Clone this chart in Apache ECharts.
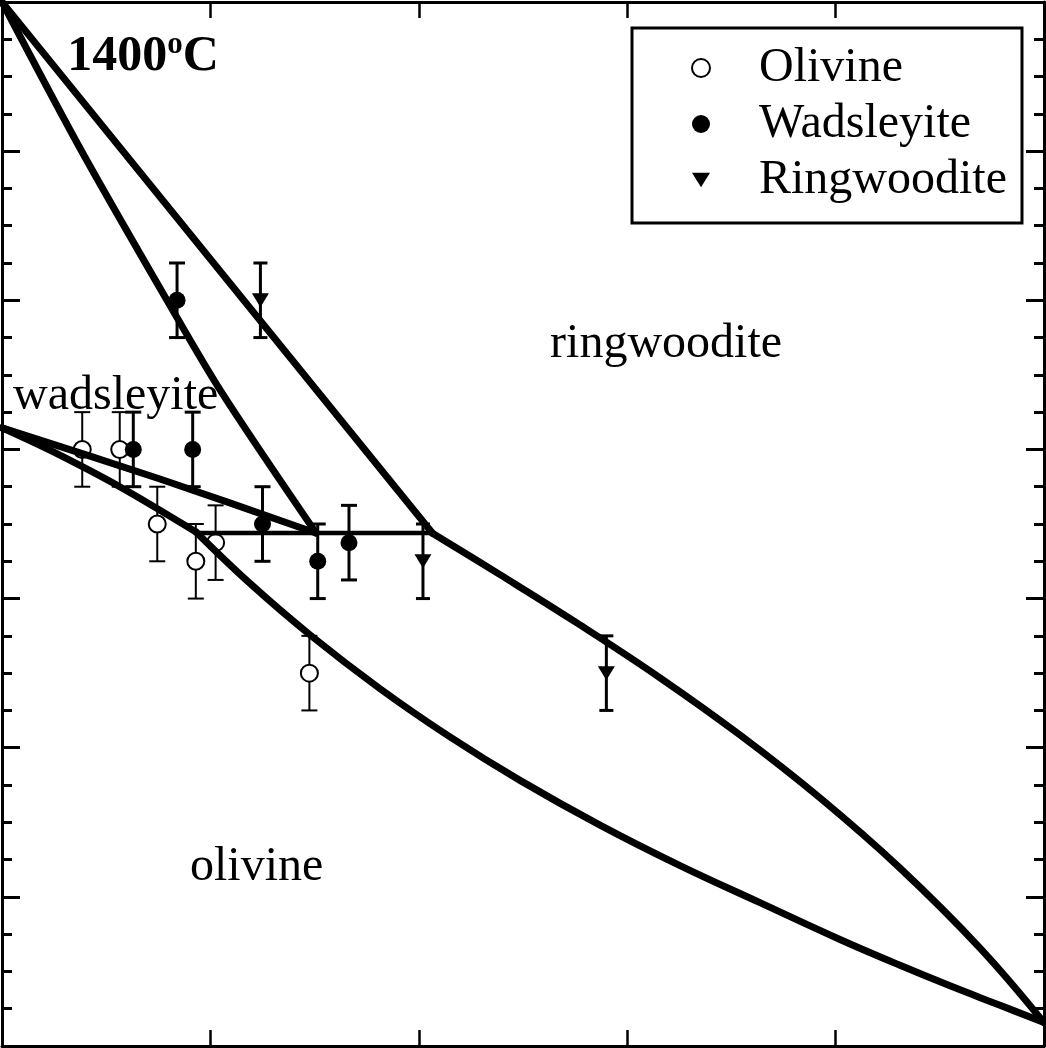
<!DOCTYPE html>
<html><head><meta charset="utf-8">
<script src="https://cdn.jsdelivr.net/npm/echarts@6/dist/echarts.min.js"></script>
<style>html,body{margin:0;padding:0;background:#fff}#c{width:1046px;height:1048px}</style>
</head><body><div id="c"></div>
<script>
// ---- data (x: composition fraction, y: pressure-like scale) ----
const olivineX = [0.077, 0.113, 0.149, 0.186, 0.205, 0.295];
const olivineY = [14.0, 14.0, 13.0, 12.5, 12.75, 11.0];
const olivineErr = [0.5, 0.5, 0.5, 0.5, 0.5, 0.5];

const wadsleyiteX = [0.168, 0.126, 0.183, 0.250, 0.303, 0.333];
const wadsleyiteY = [16.0, 14.0, 14.0, 13.0, 12.5, 12.75];
const wadsleyiteErr = [0.5, 0.5, 0.5, 0.5, 0.5, 0.5];

const ringwooditeX = [0.248, 0.404, 0.580];
const ringwooditeY = [16.0, 12.5, 11.0];
const ringwooditeErr = [0.5, 0.5, 0.5];

// phase boundaries
const ringInHigh = [[0, 20], [0.413, 12.88]];
const wadOutHigh = [[0, 20], [0.0758, 18.015], [0.1593, 15.977], [0.2111, 14.757], [0.3013, 12.88]];
const olWadUpper = [[0, 14.29], [0.1516, 13.603], [0.3013, 12.88]];
const olWadLower = [[0, 14.29], [0.046, 13.99], [0.113, 13.50], [0.1862, 12.893]];
const olRingLower = [[0.1862, 12.893], [0.238, 12.203], [0.2956, 11.513], [0.3628, 10.791], [0.4299, 10.145],
  [0.4971, 9.562], [0.5739, 8.962], [0.6507, 8.419], [0.7274, 7.922], [0.8042, 7.428], [0.8618, 7.082],
  [0.9098, 6.807], [0.9578, 6.546], [1.0, 6.315]];
const olRingUpper = [[0.4127, 12.879], [0.4779, 12.321], [0.5547, 11.647], [0.6315, 10.938], [0.7083, 10.17],
  [0.785, 9.327], [0.8618, 8.386], [0.9386, 7.314], [1.0, 6.315]];
const tripleLine = [[0.1862, 12.88], [0.4127, 12.88]];

// annotations
const annoNames = ['wadsleyite', 'ringwoodite', 'olivine'];
const annoX = [0.0106, 0.526, 0.1804];
const annoY = [14.71, 15.41, 8.40];
const titleText = '1400';
const titlePos = [0.0625, 19.28];

const xMin = 0, xMax = 1, xStep = 0.2;
const yMin = 6, yMax = 20, yStep = 2;

// ---- chart ----
const FONT = 'Liberation Serif';
const chart = echarts.init(document.getElementById('c'), null, {renderer: 'canvas'});

function errSeries(name, xs, ys, es, width, cap) {
  return {
    type: 'custom', name: name, silent: true, z: 1,
    data: xs.map((x, i) => [x, ys[i] - es[i], ys[i] + es[i]]),
    encode: {x: 0, y: [1, 2]},
    renderItem: function (params, api) {
      const lo = api.coord([api.value(0), api.value(1)]);
      const hi = api.coord([api.value(0), api.value(2)]);
      const st = {stroke: '#000', lineWidth: width, fill: null};
      return {type: 'group', children: [
        {type: 'line', shape: {x1: lo[0], y1: lo[1], x2: hi[0], y2: hi[1]}, style: st},
        {type: 'line', shape: {x1: lo[0] - cap, y1: lo[1], x2: lo[0] + cap, y2: lo[1]}, style: st},
        {type: 'line', shape: {x1: hi[0] - cap, y1: hi[1], x2: hi[0] + cap, y2: hi[1]}, style: st}
      ]};
    }
  };
}
function lineSeries(name, data, width, smooth) {
  return {type: 'line', name: name, data: data, symbol: 'none', smooth: smooth, z: 3, silent: true,
    lineStyle: {color: '#000', width: width, join: 'round', cap: 'round'}};
}
const zip = (xs, ys) => xs.map((x, i) => [x, ys[i]]);

const axisCommon = {
  axisLine: {show: true, onZero: false, lineStyle: {color: '#000', width: 3}},
  axisLabel: {show: false}, splitLine: {show: false}
};
const txt = {color: '#000', fontFamily: FONT, textBorderWidth: 0, textBorderColor: 'transparent',
  textShadowBlur: 0, opacity: 1};

const option = {
  animation: false,
  backgroundColor: '#fff',
  grid: {left: 2, right: 2, top: 2, bottom: 2},
  xAxis: [
    Object.assign({type: 'value', position: 'bottom', min: xMin, max: xMax, interval: xStep,
      axisTick: {show: true, inside: true, length: 16, lineStyle: {color: '#000', width: 2.5}}}, axisCommon),
    Object.assign({type: 'value', position: 'top', min: xMin, max: xMax, interval: xStep,
      axisTick: {show: true, inside: true, length: 16, lineStyle: {color: '#000', width: 2.5}}}, axisCommon)
  ],
  yAxis: [
    Object.assign({type: 'value', position: 'left', min: yMin, max: yMax, interval: yStep,
      axisTick: {show: true, inside: true, length: 18, lineStyle: {color: '#000', width: 3}},
      minorTick: {show: true, splitNumber: 4, length: 10, lineStyle: {color: '#000', width: 3}}}, axisCommon),
    Object.assign({type: 'value', position: 'right', min: yMin, max: yMax, interval: yStep,
      axisTick: {show: true, inside: true, length: 18, lineStyle: {color: '#000', width: 3}},
      minorTick: {show: true, splitNumber: 4, length: 10, lineStyle: {color: '#000', width: 3}}}, axisCommon)
  ],
  legend: {
    orient: 'vertical', left: 632, top: 28,
    data: ['Olivine', 'Wadsleyite', 'Ringwoodite'],
    selectedMode: false,
    itemWidth: 18, itemHeight: 18, itemGap: 8,
    padding: [16, 15, 19, 59],
    borderColor: '#000', borderWidth: 3,
    textStyle: Object.assign({fontSize: 48, lineHeight: 48, padding: [0, 0, 0, 44]}, txt)
  },
  series: [
    errSeries('olErr', olivineX, olivineY, olivineErr, 2, 8),
    errSeries('wdErr', wadsleyiteX, wadsleyiteY, wadsleyiteErr, 3, 8),
    errSeries('rwErr', ringwooditeX, ringwooditeY, ringwooditeErr, 3, 7),
    {type: 'scatter', name: 'Olivine', data: zip(olivineX, olivineY), symbol: 'circle', symbolSize: 17, z: 2,
      itemStyle: {color: '#fff', borderColor: '#000', borderWidth: 2, opacity: 1}},
    {type: 'scatter', name: 'Wadsleyite', data: zip(wadsleyiteX, wadsleyiteY), symbol: 'circle', symbolSize: 17, z: 2,
      itemStyle: {color: '#000', opacity: 1}},
    {type: 'scatter', name: 'Ringwoodite', data: zip(ringwooditeX, ringwooditeY),
      symbol: 'path://M0,0L16,0L8,13Z', symbolSize: [17, 14], z: 2,
      itemStyle: {color: '#000', opacity: 1}},
    lineSeries('b1', ringInHigh, 7, false),
    lineSeries('b2', wadOutHigh, 7, 0.3),
    lineSeries('b3', olWadUpper, 7, 0.3),
    lineSeries('b4', olWadLower, 7, 0.3),
    lineSeries('b5', olRingLower, 7, 0.4),
    lineSeries('b6', olRingUpper, 7, 0.4),
    lineSeries('b7', tripleLine, 4.5, false),
    {type: 'scatter', name: 'annotations', silent: true, z: 5, symbolSize: 0,
      itemStyle: {color: '#000', opacity: 1},
      label: Object.assign({show: true, position: 'right', distance: 0, fontSize: 48,
        formatter: p => p.name}, txt),
      data: annoNames.map((n, i) => ({name: n, value: [annoX[i], annoY[i]]})).concat([{
        name: titleText, value: titlePos,
        label: {formatter: '{a|' + titleText + '}{s|o}{a|C}',
          rich: {
            a: Object.assign({fontSize: 50, fontWeight: 'bold', verticalAlign: 'bottom', lineHeight: 52}, txt),
            s: Object.assign({fontSize: 31, fontWeight: 'bold', verticalAlign: 'top', lineHeight: 31}, txt)
          }}
      }])
    }
  ]
};
chart.setOption(option);
</script>
</body></html>
